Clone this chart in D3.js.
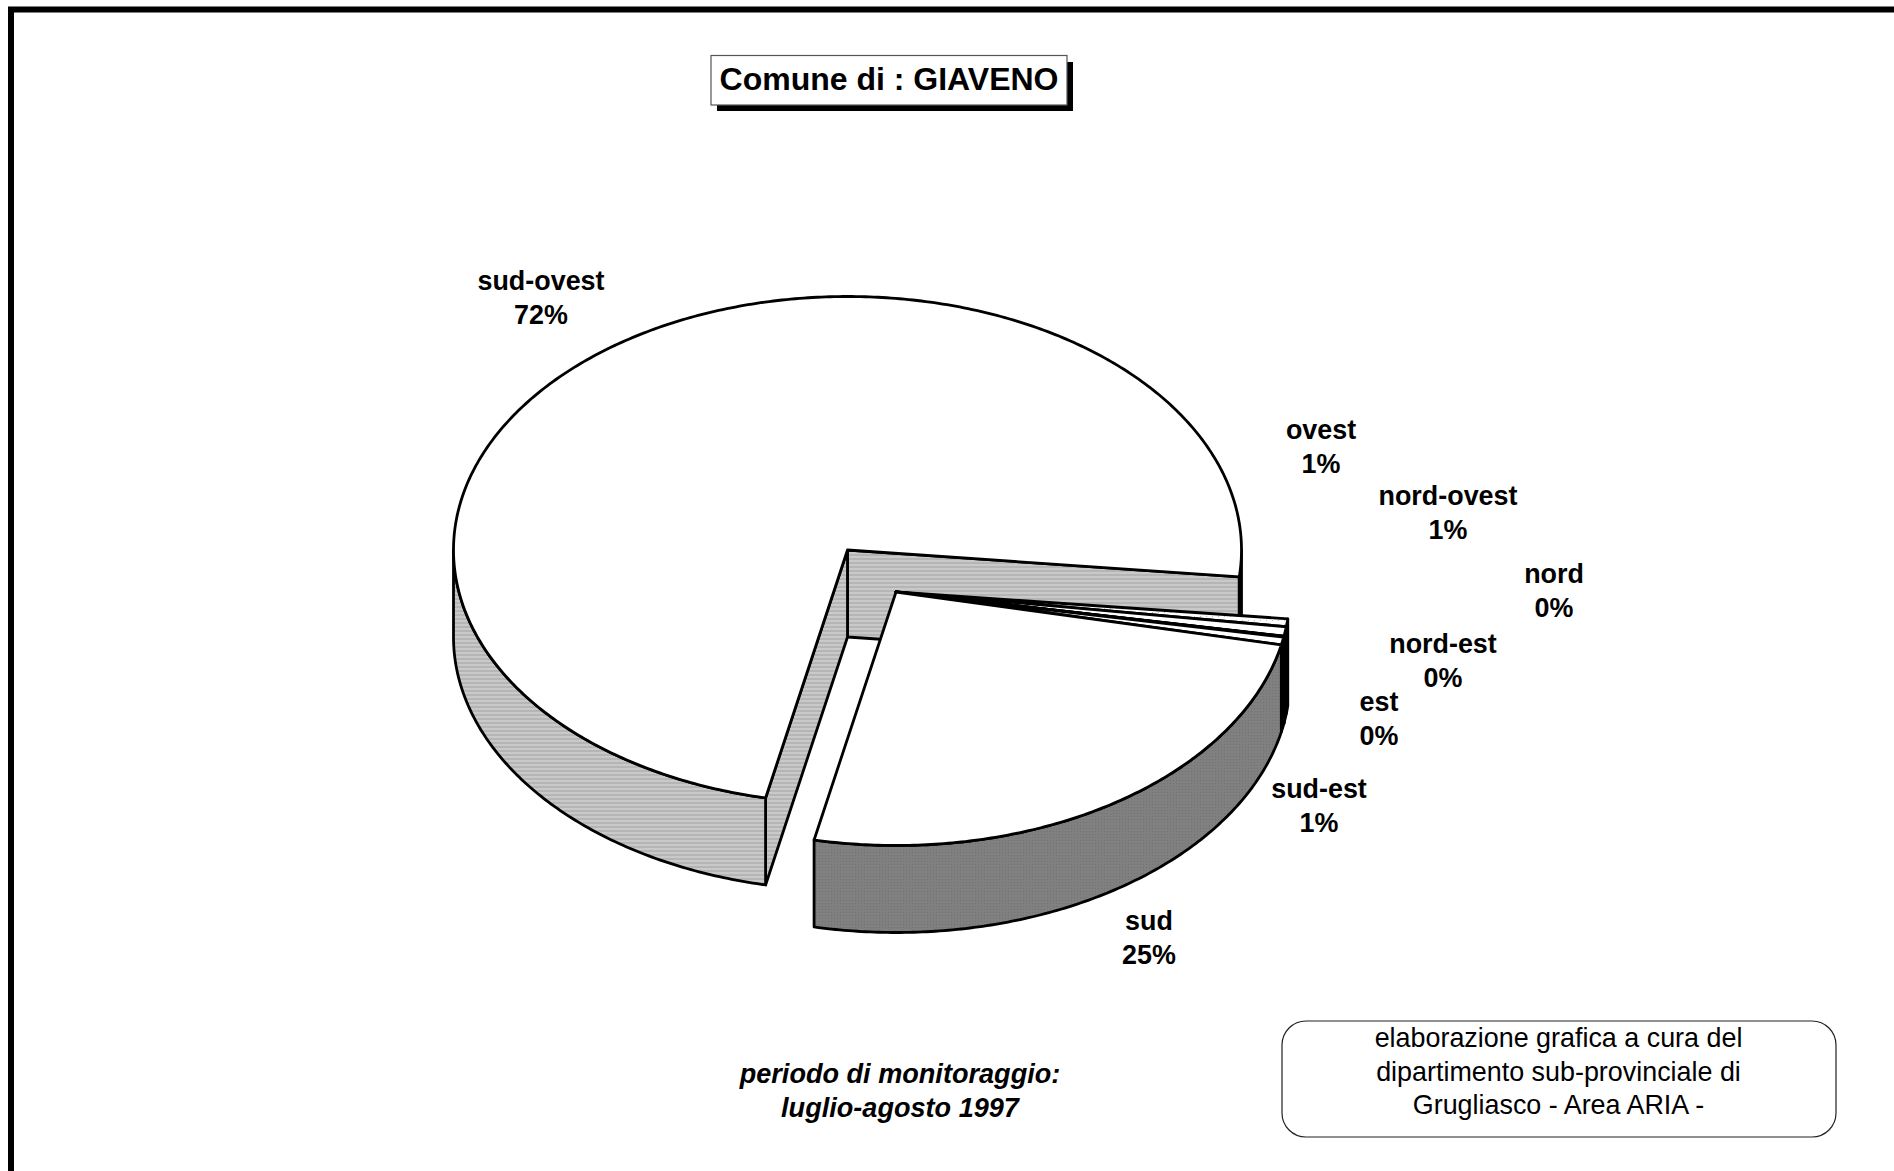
<!DOCTYPE html>
<html>
<head>
<meta charset="utf-8">
<title>Comune di : GIAVENO</title>
<script src="https://cdnjs.cloudflare.com/ajax/libs/d3/7.8.5/d3.min.js"></script>
<style>
  html, body { margin: 0; padding: 0; background: #fff; overflow: hidden; }
  svg { display: block; }
  text { font-family: "Liberation Sans", Arial, sans-serif; fill: #000; }
</style>
</head>
<body>
<div id="chart"></div>
<script>
// data (slice sizes from the drawn angles, labels as printed)
var categories = ['sud-ovest', 'ovest', 'nord-ovest', 'nord', 'nord-est', 'est', 'sud-est', 'sud'];
var sliceValues = [73.4, 0.5, 0.6, 0.02, 0.02, 0.02, 0.5, 25];
var printedLabels = ['72%', '1%', '1%', '0%', '0%', '0%', '1%', '25%'];
var titleText = 'Comune di : GIAVENO';
var periodLines = ['periodo di monitoraggio:', 'luglio-agosto 1997'];
var creditLines = ['elaborazione grafica a cura del', 'dipartimento sub-provinciale di', 'Grugliasco - Area ARIA -'];

var w = 1894;
var h = 1171;
var rx = 394;
var ry = 253.5;
var depth = 87;
var mainCenter = { x: 847.5, y: 550 };
var pulledCenter = { x: 896, y: 592 };
var lineW = 2.8;

// label anchors, same order as categories
var labelX = [541, 1321, 1448, 1554, 1443, 1379, 1319, 1149];
var labelY = [290, 439, 505, 583, 653, 711, 798, 930];

var svg = d3.select('#chart')
  .append('svg')
    .attr('width', w)
    .attr('height', h);

var defs = svg.append('defs');

var lightPat = defs.append('pattern')
    .attr('id', 'light-fill')
    .attr('patternUnits', 'userSpaceOnUse')
    .attr('width', 4)
    .attr('height', 4);
lightPat.append('rect').attr('width', 4).attr('height', 4).attr('fill', '#c9c9c9');
lightPat.append('rect').attr('y', 2).attr('width', 4).attr('height', 2).attr('fill', '#b5b5b5');

var darkPat = defs.append('pattern')
    .attr('id', 'dark-fill')
    .attr('patternUnits', 'userSpaceOnUse')
    .attr('width', 3)
    .attr('height', 3);
darkPat.append('rect').attr('width', 3).attr('height', 3).attr('fill', '#808080');
darkPat.append('rect').attr('width', 1).attr('height', 1).attr('fill', '#727272');

var dotPat = defs.append('pattern')
    .attr('id', 'dot-fill')
    .attr('patternUnits', 'userSpaceOnUse')
    .attr('width', 6)
    .attr('height', 4);
dotPat.append('rect').attr('width', 6).attr('height', 4).attr('fill', '#fff');
dotPat.append('rect').attr('width', 1).attr('height', 1).attr('fill', '#bdbdbd');

var pieData = d3.pie()
  .sort(null)
  .value(d => d)
  .startAngle(192 * Math.PI / 180)
  .endAngle((192 + 360) * Math.PI / 180)(sliceValues);

var lineGen = d3.line().x(d => d[0]).y(d => d[1]);

function pt(c, a, drop) {
  return [c.x + rx * Math.sin(a), c.y - ry * Math.cos(a) + (drop || 0)];
}

function arcPts(c, a0, a1, drop) {
  var n = Math.max(2, Math.ceil(Math.abs(a1 - a0) * 90));
  return d3.range(n + 1).map(function(i) {
    return pt(c, a0 + (a1 - a0) * i / n, drop);
  });
}

function drawPoly(pts, fill) {
  svg.append('path')
    .attr('d', lineGen(pts) + 'Z')
    .attr('fill', fill)
    .attr('stroke', '#000')
    .attr('stroke-width', lineW)
    .attr('stroke-linejoin', 'round');
}

function drawWall(c, a0, a1, fill) {
  drawPoly(arcPts(c, a0, a1, 0).concat(arcPts(c, a1, a0, depth)), fill);
}

function drawCut(c, a, fill) {
  var o = pt(c, a);
  drawPoly([[c.x, c.y], o, [o[0], o[1] + depth], [c.x, c.y + depth]], fill);
}

function drawTop(c, a0, a1, fill) {
  drawPoly([[c.x, c.y]].concat(arcPts(c, a0, a1, 0)), fill);
}

// frame runs off the right and bottom of the page
svg.append('path')
  .attr('d', 'M' + w + ',9.5 H11 V' + h)
  .attr('fill', 'none')
  .attr('stroke', '#000')
  .attr('stroke-width', 6);

// sud-ovest stays in place
var big = pieData[0];
drawCut(mainCenter, big.endAngle - 2 * Math.PI, 'url(#light-fill)');
drawCut(mainCenter, big.startAngle, 'url(#light-fill)');
drawWall(mainCenter, big.startAngle, 1.5 * Math.PI, 'url(#light-fill)');
drawWall(mainCenter, 0.5 * Math.PI, big.endAngle - 2 * Math.PI, '#000');
drawTop(mainCenter, big.startAngle, big.endAngle, '#fff');

// the other slices are pulled out together
var pulled = pieData.slice(1);
pulled.forEach(function(d) {
  var a0 = d.startAngle - 2 * Math.PI;
  var a1 = d.endAngle - 2 * Math.PI;
  var isSud = categories[d.index] == 'sud';
  if (a1 > a0) drawWall(pulledCenter, a0, a1, isSud ? 'url(#dark-fill)' : '#000');
});
pulled.forEach(function(d) {
  var a0 = d.startAngle - 2 * Math.PI;
  var a1 = d.endAngle - 2 * Math.PI;
  var isOvest = categories[d.index] == 'ovest';
  drawTop(pulledCenter, a0, a1, isOvest ? 'url(#dot-fill)' : '#fff');
});

// slice labels
var labels = svg.selectAll('.slice-label')
  .data(categories)
  .enter()
  .append('text')
    .attr('class', 'slice-label')
    .attr('text-anchor', 'middle')
    .attr('font-size', 26.9)
    .attr('font-weight', 'bold');

labels.append('tspan')
    .attr('x', (d, i) => labelX[i])
    .attr('y', (d, i) => labelY[i])
    .text(d => d);

labels.append('tspan')
    .attr('x', (d, i) => labelX[i])
    .attr('y', (d, i) => labelY[i] + 34)
    .text((d, i) => printedLabels[i]);

// title box with its shadow
svg.append('rect')
    .attr('x', 717).attr('y', 62)
    .attr('width', 356).attr('height', 49)
    .attr('fill', '#000');
svg.append('rect')
    .attr('x', 711).attr('y', 55.5)
    .attr('width', 356).attr('height', 49.5)
    .attr('fill', '#fff')
    .attr('stroke', '#555')
    .attr('stroke-width', 1.2);
svg.append('text')
    .attr('x', 889)
    .attr('y', 90)
    .attr('text-anchor', 'middle')
    .attr('font-size', 32)
    .attr('font-weight', 'bold')
    .text(titleText);

// monitoring period
svg.selectAll('.period')
  .data(periodLines)
  .enter()
  .append('text')
    .attr('class', 'period')
    .attr('x', 900)
    .attr('y', (d, i) => 1083 + i * 34)
    .attr('text-anchor', 'middle')
    .attr('font-size', 27.1)
    .attr('font-weight', 'bold')
    .attr('font-style', 'italic')
    .text(d => d);

// credit box
svg.append('rect')
    .attr('x', 1282).attr('y', 1021)
    .attr('width', 554).attr('height', 116)
    .attr('rx', 24).attr('ry', 24)
    .attr('fill', '#fff')
    .attr('stroke', '#222')
    .attr('stroke-width', 1.2);
svg.selectAll('.credit')
  .data(creditLines)
  .enter()
  .append('text')
    .attr('class', 'credit')
    .attr('x', 1558.5)
    .attr('y', (d, i) => 1047 + i * 33.5)
    .attr('text-anchor', 'middle')
    .attr('font-size', 26.9)
    .text(d => d);
</script>
</body>
</html>
